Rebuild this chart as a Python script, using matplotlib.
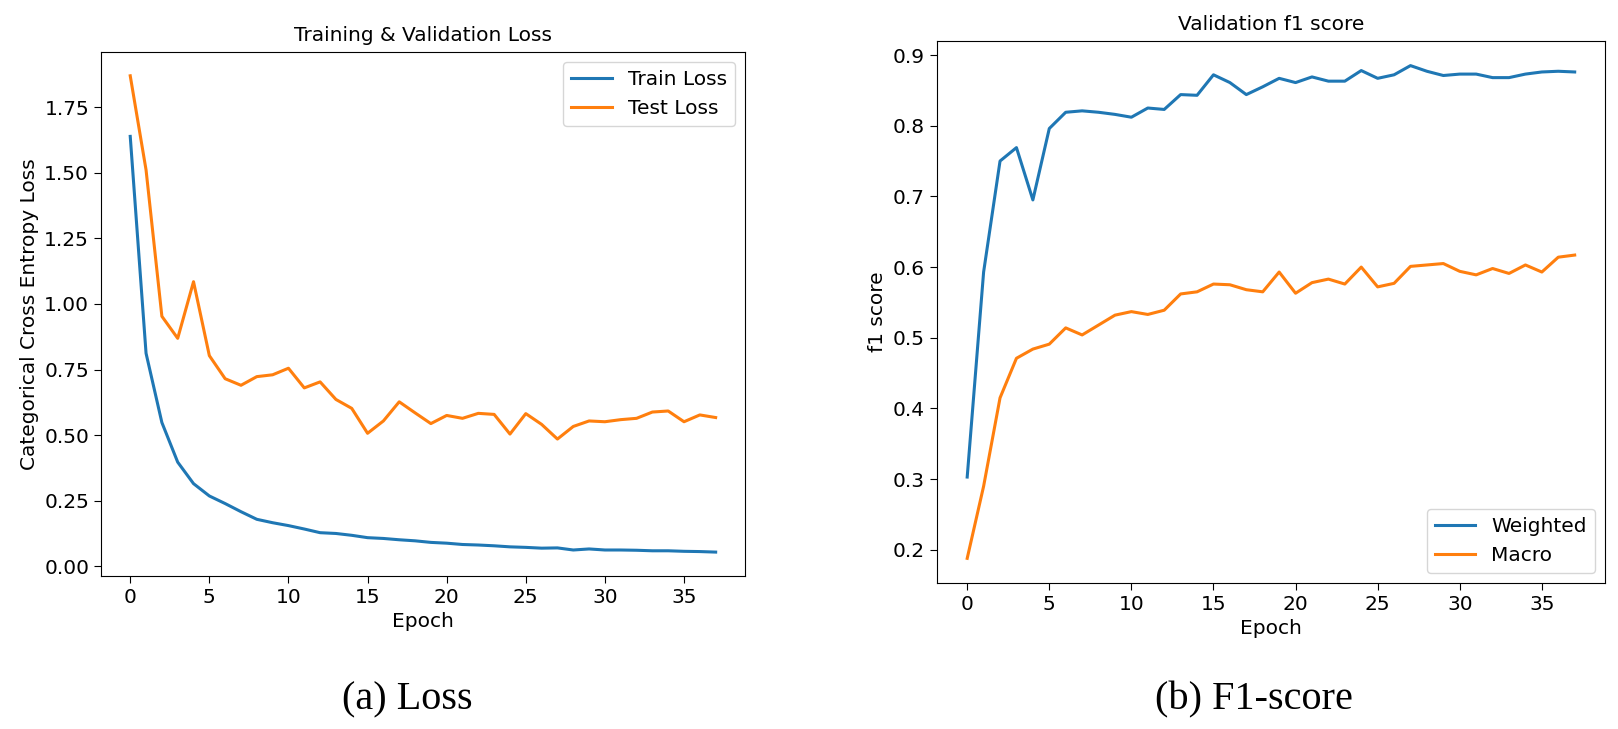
import matplotlib.pyplot as plt
import numpy as np

# ---------------- data ----------------
epochs = np.arange(38)

train_loss = [1.639, 0.812, 0.548, 0.397, 0.315, 0.268, 0.239, 0.208, 0.179, 0.166,
              0.155, 0.142, 0.128, 0.125, 0.118, 0.109, 0.106, 0.101, 0.097, 0.091,
              0.088, 0.083, 0.081, 0.078, 0.074, 0.072, 0.069, 0.070, 0.062, 0.066,
              0.062, 0.062, 0.061, 0.059, 0.059, 0.057, 0.056, 0.054]

test_loss = [1.870, 1.511, 0.953, 0.869, 1.085, 0.803, 0.715, 0.690, 0.723, 0.730,
             0.755, 0.680, 0.703, 0.636, 0.602, 0.507, 0.554, 0.627, 0.585, 0.544,
             0.575, 0.564, 0.583, 0.579, 0.504, 0.582, 0.541, 0.485, 0.533, 0.554,
             0.551, 0.559, 0.564, 0.588, 0.592, 0.551, 0.577, 0.567]

f1_weighted = [0.303, 0.593, 0.750, 0.769, 0.695, 0.796, 0.819, 0.821, 0.819, 0.816,
               0.812, 0.825, 0.823, 0.844, 0.843, 0.872, 0.861, 0.844, 0.855, 0.867,
               0.861, 0.869, 0.863, 0.863, 0.878, 0.867, 0.872, 0.885, 0.877, 0.871,
               0.873, 0.873, 0.868, 0.868, 0.873, 0.876, 0.877, 0.876]

f1_macro = [0.188, 0.290, 0.415, 0.471, 0.484, 0.491, 0.514, 0.504, 0.518, 0.532,
            0.537, 0.533, 0.539, 0.562, 0.565, 0.576, 0.575, 0.568, 0.565, 0.593,
            0.563, 0.578, 0.583, 0.576, 0.600, 0.572, 0.577, 0.601, 0.603, 0.605,
            0.594, 0.589, 0.598, 0.591, 0.603, 0.593, 0.614, 0.617]

# ---------------- figure ----------------
plt.rcParams['font.family'] = ['DejaVu Sans']
fs = 14.5
lw = 2.2

fig = plt.figure(figsize=(16.18, 7.29), dpi=100)

ax1 = fig.add_axes([0.0624, 0.210, 0.398, 0.7187])
ax1.plot(epochs, train_loss, color='#1f77b4', lw=lw, label='Train Loss')
ax1.plot(epochs, test_loss, color='#ff7f0e', lw=lw, label='Test Loss')
ax1.set_title('Training & Validation Loss', fontsize=fs, pad=8)
ax1.set_xlabel('Epoch', fontsize=fs)
ax1.set_ylabel('Categorical Cross Entropy Loss', fontsize=fs)
ax1.tick_params(labelsize=fs, length=5)
ax1.legend(loc='upper right', fontsize=fs)

ax2 = fig.add_axes([0.579, 0.2003, 0.413, 0.7435])
ax2.plot(epochs, f1_weighted, color='#1f77b4', lw=lw, label='Weighted')
ax2.plot(epochs, f1_macro, color='#ff7f0e', lw=lw, label='Macro')
ax2.set_title('Validation f1 score', fontsize=fs, pad=8)
ax2.set_xlabel('Epoch', fontsize=fs)
ax2.set_ylabel('f1 score', fontsize=fs)
ax2.tick_params(labelsize=fs, length=5)
ax2.legend(loc='lower right', fontsize=fs)

# captions under each panel
fig.text(0.252, 0.04, '(a) Loss', family='Liberation Serif', fontsize=29,
         ha='center', va='center')
fig.text(0.775, 0.04, '(b) F1-score', family='Liberation Serif', fontsize=29,
         ha='center', va='center')

fig.savefig('out.png', dpi=100)
